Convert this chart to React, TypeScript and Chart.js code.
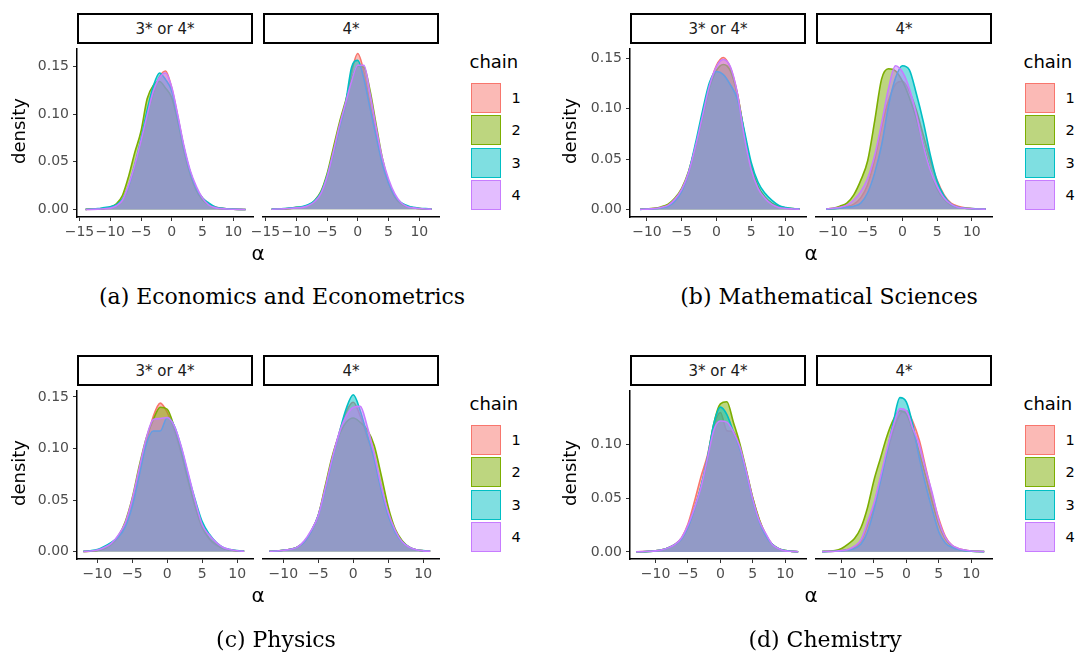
import React, { useEffect, useRef } from "react";
import { Chart, registerables } from "chart.js";

Chart.register(...registerables);

// ---------- data ----------
const chainNames = ["1", "2", "3", "4"];
const chainColors = ["#F8766D", "#7CAE00", "#00BFC4", "#C77CFF"];
const chainFills = [
  "rgba(248,118,109,0.5)",
  "rgba(124,174,0,0.5)",
  "rgba(0,191,196,0.5)",
  "rgba(199,124,255,0.5)",
];
const facetLabels = ["3* or 4*", "4*"];
const captionTexts = [
  "(a) Economics and Econometrics",
  "(b) Mathematical Sciences",
  "(c) Physics",
  "(d) Chemistry",
];

const xTicksA = [-15, -10, -5, 0, 5, 10];
const xTicksBCD = [-10, -5, 0, 5, 10];
const yTicksABC = [0, 0.05, 0.1, 0.15];
const yTicksD = [0, 0.05, 0.1];

// (a) Economics and Econometrics
const alphaA = [-14, -13, -12, -11, -10, -9, -8, -7, -6, -5, -4, -3, -2, -1, 0, 1, 2, 3, 4, 5, 6, 7, 8, 9, 10, 11, 12];
const econ34Chain1 = [0.0002, 0.0004, 0.0006, 0.001, 0.002, 0.004, 0.01, 0.024, 0.046, 0.071, 0.098, 0.122, 0.139, 0.145, 0.127, 0.097, 0.064, 0.039, 0.022, 0.012, 0.006, 0.003, 0.0015, 0.0008, 0.0004, 0.0002, 0.0001];
const econ34Chain2 = [0.0002, 0.0004, 0.0007, 0.0012, 0.0025, 0.006, 0.015, 0.035, 0.06, 0.082, 0.116, 0.13, 0.134, 0.127, 0.117, 0.092, 0.061, 0.037, 0.02, 0.01, 0.005, 0.002, 0.001, 0.0005, 0.0003, 0.0002, 0.0001];
const econ34Chain3 = [0.0002, 0.0005, 0.001, 0.002, 0.003, 0.005, 0.011, 0.025, 0.047, 0.074, 0.104, 0.129, 0.143, 0.136, 0.124, 0.095, 0.064, 0.039, 0.022, 0.012, 0.007, 0.003, 0.0015, 0.0008, 0.0004, 0.0002, 0.0001];
const econ34Chain4 = [0.0001, 0.0002, 0.0004, 0.0008, 0.0015, 0.004, 0.01, 0.026, 0.047, 0.072, 0.099, 0.124, 0.138, 0.143, 0.128, 0.098, 0.066, 0.041, 0.024, 0.012, 0.005, 0.002, 0.001, 0.0005, 0.0003, 0.0002, 0.0001];
const econ4Chain1 = [0.0001, 0.0002, 0.0004, 0.0008, 0.0015, 0.002, 0.004, 0.008, 0.016, 0.032, 0.056, 0.082, 0.106, 0.14, 0.159, 0.14, 0.107, 0.077, 0.047, 0.027, 0.013, 0.006, 0.003, 0.0015, 0.0008, 0.0004, 0.0002];
const econ4Chain2 = [0.0002, 0.0003, 0.0005, 0.001, 0.002, 0.0025, 0.004, 0.009, 0.018, 0.036, 0.062, 0.088, 0.11, 0.132, 0.146, 0.145, 0.121, 0.086, 0.052, 0.028, 0.013, 0.006, 0.003, 0.0015, 0.0008, 0.0004, 0.0002];
const econ4Chain3 = [0.0002, 0.0004, 0.0008, 0.0015, 0.002, 0.003, 0.005, 0.009, 0.017, 0.034, 0.057, 0.083, 0.108, 0.145, 0.152, 0.133, 0.103, 0.074, 0.046, 0.027, 0.014, 0.007, 0.004, 0.002, 0.0012, 0.0008, 0.0004];
const econ4Chain4 = [0.0001, 0.0003, 0.0005, 0.001, 0.0015, 0.002, 0.004, 0.008, 0.016, 0.033, 0.058, 0.085, 0.108, 0.131, 0.147, 0.147, 0.118, 0.083, 0.052, 0.031, 0.016, 0.007, 0.003, 0.0015, 0.0008, 0.0004, 0.0002];

// (b) Mathematical Sciences
const alphaB = [-11, -10, -9, -8, -7, -6, -5, -4, -3, -2, -1, 0, 1, 2, 3, 4, 5, 6, 7, 8, 9, 10, 11, 12];
const math34Chain1 = [0.0002, 0.0005, 0.001, 0.002, 0.004, 0.008, 0.018, 0.036, 0.062, 0.092, 0.122, 0.143, 0.151, 0.141, 0.116, 0.076, 0.042, 0.022, 0.012, 0.006, 0.003, 0.0015, 0.0007, 0.0003];
const math34Chain2 = [0.0002, 0.0005, 0.0012, 0.0025, 0.005, 0.011, 0.021, 0.038, 0.063, 0.092, 0.121, 0.138, 0.144, 0.138, 0.115, 0.077, 0.043, 0.023, 0.012, 0.006, 0.003, 0.0015, 0.0008, 0.0004];
const math34Chain3 = [0.0001, 0.0003, 0.0007, 0.0015, 0.003, 0.008, 0.018, 0.037, 0.066, 0.098, 0.126, 0.137, 0.134, 0.124, 0.11, 0.079, 0.047, 0.027, 0.016, 0.009, 0.004, 0.002, 0.001, 0.0005];
const math34Chain4 = [0.0001, 0.0003, 0.0008, 0.002, 0.004, 0.01, 0.02, 0.037, 0.063, 0.093, 0.123, 0.142, 0.149, 0.142, 0.116, 0.073, 0.04, 0.021, 0.011, 0.005, 0.002, 0.001, 0.0005, 0.0002];
const math4Chain1 = [0.0003, 0.0006, 0.0012, 0.0025, 0.005, 0.011, 0.024, 0.048, 0.08, 0.105, 0.121, 0.124, 0.114, 0.096, 0.072, 0.048, 0.028, 0.014, 0.006, 0.003, 0.0015, 0.0008, 0.0004, 0.0002];
const math4Chain2 = [0.0003, 0.001, 0.003, 0.006, 0.014, 0.028, 0.047, 0.085, 0.126, 0.136, 0.134, 0.124, 0.108, 0.088, 0.062, 0.038, 0.02, 0.01, 0.004, 0.002, 0.001, 0.0005, 0.0003, 0.0001];
const math4Chain3 = [0.0001, 0.0005, 0.001, 0.002, 0.003, 0.006, 0.016, 0.035, 0.062, 0.1, 0.127, 0.139, 0.135, 0.112, 0.085, 0.053, 0.027, 0.013, 0.005, 0.002, 0.001, 0.0006, 0.0003, 0.0001];
const math4Chain4 = [0.0003, 0.001, 0.002, 0.004, 0.009, 0.017, 0.03, 0.052, 0.083, 0.117, 0.139, 0.133, 0.117, 0.092, 0.062, 0.038, 0.022, 0.011, 0.005, 0.002, 0.001, 0.0005, 0.0002, 0.0001];

// (c) Physics
const alphaC = [-12, -11, -10, -9, -8, -7, -6, -5, -4, -3, -2, -1, 0, 1, 2, 3, 4, 5, 6, 7, 8, 9, 10, 11];
const phys34Chain1 = [0.0001, 0.0004, 0.001, 0.003, 0.007, 0.014, 0.027, 0.049, 0.078, 0.106, 0.131, 0.144, 0.135, 0.118, 0.095, 0.068, 0.043, 0.023, 0.012, 0.006, 0.003, 0.0015, 0.0007, 0.0003];
const phys34Chain2 = [0.0001, 0.0004, 0.001, 0.003, 0.007, 0.015, 0.029, 0.052, 0.083, 0.11, 0.128, 0.14, 0.138, 0.121, 0.097, 0.069, 0.044, 0.024, 0.013, 0.007, 0.003, 0.0015, 0.0008, 0.0004];
const phys34Chain3 = [0.0002, 0.0008, 0.002, 0.005, 0.009, 0.014, 0.024, 0.044, 0.074, 0.104, 0.117, 0.117, 0.13, 0.122, 0.101, 0.074, 0.05, 0.029, 0.017, 0.009, 0.004, 0.002, 0.001, 0.0004];
const phys34Chain4 = [0.0001, 0.0005, 0.0015, 0.004, 0.008, 0.016, 0.028, 0.051, 0.081, 0.11, 0.128, 0.129, 0.13, 0.122, 0.102, 0.076, 0.049, 0.026, 0.016, 0.009, 0.004, 0.002, 0.0008, 0.0003];
const phys4Chain1 = [0.0001, 0.0003, 0.001, 0.002, 0.004, 0.009, 0.019, 0.034, 0.06, 0.088, 0.112, 0.132, 0.141, 0.128, 0.108, 0.088, 0.06, 0.035, 0.019, 0.009, 0.004, 0.0015, 0.0006, 0.0002];
const phys4Chain2 = [0.0001, 0.0003, 0.001, 0.002, 0.004, 0.009, 0.019, 0.034, 0.062, 0.09, 0.11, 0.122, 0.126, 0.122, 0.115, 0.1, 0.072, 0.042, 0.021, 0.01, 0.004, 0.0015, 0.0006, 0.0002];
const phys4Chain3 = [0.0001, 0.0003, 0.001, 0.002, 0.004, 0.009, 0.019, 0.034, 0.058, 0.086, 0.112, 0.135, 0.148, 0.133, 0.11, 0.087, 0.058, 0.034, 0.018, 0.009, 0.004, 0.0015, 0.0007, 0.0003];
const phys4Chain4 = [0.0001, 0.0003, 0.001, 0.002, 0.004, 0.01, 0.02, 0.034, 0.06, 0.088, 0.112, 0.128, 0.136, 0.137, 0.118, 0.092, 0.062, 0.037, 0.02, 0.009, 0.004, 0.0015, 0.0005, 0.0002];

// (d) Chemistry
const alphaD = [-13, -12, -11, -10, -9, -8, -7, -6, -5, -4, -3, -2, -1, 0, 1, 2, 3, 4, 5, 6, 7, 8, 9, 10, 11, 12];
const chem34Chain1 = [0.0001, 0.0003, 0.0006, 0.001, 0.002, 0.004, 0.007, 0.013, 0.026, 0.047, 0.07, 0.09, 0.118, 0.13, 0.113, 0.112, 0.097, 0.075, 0.05, 0.03, 0.016, 0.007, 0.003, 0.0012, 0.0005, 0.0002];
const chem34Chain2 = [0.0001, 0.0002, 0.0005, 0.001, 0.002, 0.004, 0.007, 0.012, 0.023, 0.04, 0.06, 0.086, 0.12, 0.138, 0.14, 0.121, 0.101, 0.076, 0.05, 0.03, 0.016, 0.007, 0.003, 0.0012, 0.0005, 0.0002];
const chem34Chain3 = [0.0001, 0.0002, 0.0005, 0.001, 0.002, 0.004, 0.007, 0.012, 0.023, 0.04, 0.061, 0.088, 0.12, 0.135, 0.128, 0.112, 0.096, 0.073, 0.048, 0.028, 0.015, 0.007, 0.003, 0.0012, 0.0005, 0.0002];
const chem34Chain4 = [0.0001, 0.0003, 0.0005, 0.001, 0.002, 0.004, 0.007, 0.013, 0.025, 0.041, 0.06, 0.087, 0.114, 0.122, 0.121, 0.112, 0.098, 0.075, 0.049, 0.029, 0.017, 0.007, 0.003, 0.001, 0.0005, 0.0002];
const chem4Chain1 = [0.0001, 0.0003, 0.0005, 0.001, 0.002, 0.004, 0.01, 0.024, 0.042, 0.066, 0.09, 0.11, 0.125, 0.128, 0.118, 0.101, 0.076, 0.051, 0.03, 0.014, 0.006, 0.003, 0.0015, 0.0007, 0.0003, 0.0001];
const chem4Chain2 = [0.0002, 0.0005, 0.001, 0.003, 0.007, 0.012, 0.022, 0.04, 0.065, 0.085, 0.105, 0.12, 0.128, 0.125, 0.11, 0.09, 0.068, 0.045, 0.025, 0.012, 0.005, 0.002, 0.001, 0.0005, 0.0003, 0.0002];
const chem4Chain3 = [0.0001, 0.0002, 0.0004, 0.0008, 0.0015, 0.003, 0.007, 0.018, 0.038, 0.064, 0.09, 0.118, 0.14, 0.136, 0.115, 0.085, 0.06, 0.038, 0.018, 0.008, 0.004, 0.002, 0.001, 0.0005, 0.0002, 0.0001];
const chem4Chain4 = [0.0001, 0.0003, 0.0005, 0.001, 0.002, 0.005, 0.011, 0.027, 0.044, 0.068, 0.093, 0.115, 0.13, 0.128, 0.112, 0.097, 0.074, 0.053, 0.028, 0.013, 0.006, 0.003, 0.0015, 0.0007, 0.0003, 0.0001];

// ---------- layout ----------
const PANEL_W = 176;
const PANEL_H = 173;
const Y_AXIS_W = 70;
const PAD_L = 26;
const PAD_R = 10;
const PAD_T = 8;
const X_AXIS_H = 34;
const SANS = "'DejaVu Sans', 'Liberation Sans', sans-serif";

const subfigs = [
  {
    xs: alphaA, facets: [[econ34Chain1, econ34Chain2, econ34Chain3, econ34Chain4], [econ4Chain1, econ4Chain2, econ4Chain3, econ4Chain4]],
    xMin: -15.4, xMax: 13.2, yMin: -0.0078, yMax: 0.1687, xTicks: xTicksA, yTicks: yTicksABC,
    lefts: [77, 263], top: 44, legendLeft: 470.5, yLabelX: 19, capX: 282, capY: 297,
  },
  {
    xs: alphaB, facets: [[math34Chain1, math34Chain2, math34Chain3, math34Chain4], [math4Chain1, math4Chain2, math4Chain3, math4Chain4]],
    xMin: -12.44, xMax: 12.9, yMin: -0.0075, yMax: 0.16, xTicks: xTicksBCD, yTicks: yTicksABC,
    lefts: [630, 816], top: 44, legendLeft: 1024.5, yLabelX: 570, capX: 829, capY: 297,
  },
  {
    xs: alphaC, facets: [[phys34Chain1, phys34Chain2, phys34Chain3, phys34Chain4], [phys4Chain1, phys4Chain2, phys4Chain3, phys4Chain4]],
    xMin: -12.9, xMax: 12.26, yMin: -0.0072, yMax: 0.1563, xTicks: xTicksBCD, yTicks: yTicksABC,
    lefts: [77, 263], top: 386, legendLeft: 470.5, yLabelX: 19, capX: 276, capY: 640,
  },
  {
    xs: alphaD, facets: [[chem34Chain1, chem34Chain2, chem34Chain3, chem34Chain4], [chem4Chain1, chem4Chain2, chem4Chain3, chem4Chain4]],
    xMin: -13.94, xMax: 13.2, yMin: -0.0066, yMax: 0.1506, xTicks: xTicksBCD, yTicks: yTicksD,
    lefts: [630, 816], top: 386, legendLeft: 1024.5, yLabelX: 570, capX: 825, capY: 640,
  },
];

const fmtX = (v: number) => (v < 0 ? "\u2212" + Math.abs(v) : String(v));

type FacetProps = {
  xs: number[]; ys: number[][]; xMin: number; xMax: number; yMin: number; yMax: number;
  xTicks: number[]; yTicks: number[]; showY: boolean; left: number; top: number;
};

function Facet(p: FacetProps) {
  const ref = useRef<HTMLCanvasElement>(null);
  const leftSpace = p.showY ? Y_AXIS_W : PAD_L;
  const w = leftSpace + PANEL_W + PAD_R;
  const h = PAD_T + PANEL_H + X_AXIS_H;
  useEffect(() => {
    const tickFont = { family: SANS, size: 14 };
    const chart = new Chart(ref.current as HTMLCanvasElement, {
      type: "line",
      data: {
        datasets: p.ys.map((ys, i) => ({
          label: chainNames[i],
          data: p.xs.map((x, j) => ({ x, y: ys[j] })),
          borderColor: chainColors[i],
          backgroundColor: chainFills[i],
          borderWidth: 1.6,
          fill: "origin",
          pointRadius: 0,
          cubicInterpolationMode: "monotone",
          order: 4 - i,
        })),
      },
      options: {
        responsive: false,
        animation: false,
        devicePixelRatio: 1,
        events: [],
        layout: {
          autoPadding: false,
          padding: { left: p.showY ? 0 : PAD_L, right: PAD_R, top: PAD_T, bottom: 0 },
        },
        plugins: { legend: { display: false }, tooltip: { enabled: false } },
        scales: {
          x: {
            type: "linear",
            min: p.xMin,
            max: p.xMax,
            afterBuildTicks: (s: any) => { s.ticks = p.xTicks.map((v) => ({ value: v })); },
            afterFit: (s: any) => { s.height = X_AXIS_H; },
            ticks: { callback: (v: any) => fmtX(Number(v)), color: "#4D4D4D", font: tickFont, padding: 3, maxRotation: 0, minRotation: 0, autoSkip: false },
            grid: { display: true, drawOnChartArea: false, drawTicks: true, tickLength: 4, color: "#333333", lineWidth: 1 },
            border: { display: true, color: "#000000", width: 1.5 },
          },
          y: {
            type: "linear",
            display: p.showY,
            min: p.yMin,
            max: p.yMax,
            afterBuildTicks: (s: any) => { s.ticks = p.yTicks.map((v) => ({ value: v })); },
            afterFit: (s: any) => { s.width = p.showY ? Y_AXIS_W : 0; },
            ticks: { callback: (v: any) => Number(v).toFixed(2), color: "#4D4D4D", font: tickFont, padding: 4, autoSkip: false },
            grid: { display: true, drawOnChartArea: false, drawTicks: true, tickLength: 4, color: "#333333", lineWidth: 1 },
            border: { display: true, color: "#000000", width: 1.5 },
          },
        },
      } as any,
    });
    return () => chart.destroy();
  }, []);
  return (
    <canvas
      ref={ref}
      width={w}
      height={h}
      style={{ position: "absolute", left: p.left - leftSpace, top: p.top - PAD_T, width: w, height: h, display: "block" }}
    />
  );
}

const centered = (cx: number, cy: number, extra: React.CSSProperties = {}): React.CSSProperties => ({
  position: "absolute",
  left: cx,
  top: cy,
  transform: "translate(-50%, -50%)",
  whiteSpace: "nowrap",
  lineHeight: 1,
  ...extra,
});

export default function App() {
  return (
    <div style={{ position: "absolute", left: 0, top: 0, width: 1078, height: 660, background: "#fff", overflow: "hidden", fontFamily: SANS }}>
      {subfigs.map((sf, si) => (
        <React.Fragment key={si}>
          {sf.facets.map((ys, fi) => (
            <Facet
              key={fi}
              xs={sf.xs}
              ys={ys}
              xMin={sf.xMin}
              xMax={sf.xMax}
              yMin={sf.yMin}
              yMax={sf.yMax}
              xTicks={sf.xTicks}
              yTicks={sf.yTicks}
              showY={fi === 0}
              left={sf.lefts[fi]}
              top={sf.top}
            />
          ))}
          {sf.lefts.map((l, fi) => (
            <div
              key={"s" + fi}
              style={{
                position: "absolute", left: l, top: sf.top - 31, width: PANEL_W, height: 31, boxSizing: "border-box",
                border: "2px solid #000", background: "#fff", display: "flex", alignItems: "center", justifyContent: "center",
                fontSize: 15, color: "#1A1A1A",
              }}
            >
              {facetLabels[fi]}
            </div>
          ))}
          <div style={centered(sf.yLabelX, sf.top + PANEL_H / 2, { transform: "translate(-50%, -50%) rotate(-90deg)", fontSize: 18, color: "#000" })}>density</div>
          <div style={centered((sf.lefts[0] + sf.lefts[1] + PANEL_W) / 2, sf.top + 209, { fontSize: 20, color: "#000" })}>α</div>
          <div style={{ position: "absolute", left: sf.legendLeft - 1, top: sf.top + 9, fontSize: 18, color: "#000", lineHeight: 1, whiteSpace: "nowrap" }}>chain</div>
          {chainNames.map((c, ci) => (
            <React.Fragment key={"k" + ci}>
              <div
                style={{
                  position: "absolute", left: sf.legendLeft, top: sf.top + 38.5 + ci * 32.5, width: 30, height: 30, boxSizing: "border-box",
                  border: "1.5px solid " + chainColors[ci], background: chainFills[ci],
                }}
              />
              <div style={centered(sf.legendLeft + 45.5, sf.top + 38.5 + ci * 32.5 + 15, { fontSize: 14.5, color: "#000" })}>{c}</div>
            </React.Fragment>
          ))}
          <div style={centered(sf.capX, sf.capY, { fontFamily: "'DejaVu Serif', 'Liberation Serif', serif", fontSize: 22, color: "#000" })}>{captionTexts[si]}</div>
        </React.Fragment>
      ))}
    </div>
  );
}
